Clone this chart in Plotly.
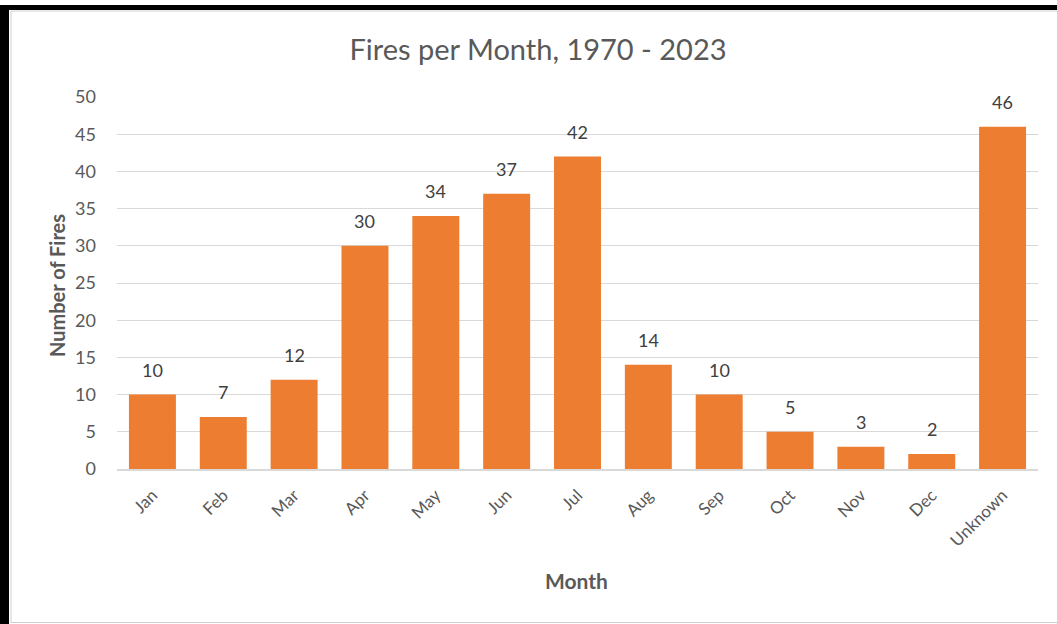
import plotly.graph_objects as go

months = ["Jan", "Feb", "Mar", "Apr", "May", "Jun", "Jul", "Aug", "Sep", "Oct", "Nov", "Dec", "Unknown"]
fires = [10, 7, 12, 30, 34, 37, 42, 14, 10, 5, 3, 2, 46]
y_ticks = [0, 5, 10, 15, 20, 25, 30, 35, 40, 45, 50]

W, H = 1057, 624
ML, MR, MT, MB = 117, 19, 97, 155
PW, PH = W - ML - MR, H - MT - MB

def px(x):
    return (x - ML) / PW

def py(y):
    return (H - MB - y) / PH

FONT = "Lato, Carlito, Calibri, sans-serif"

fig = go.Figure(go.Bar(
    x=months, y=fires,
    marker=dict(color="#ED7D31", line=dict(width=0)),
    width=0.663,
    cliponaxis=False,
    hoverinfo="skip",
))

annotations = [
    dict(x=m, y=v, xref="x", yref="y", text=str(v), showarrow=False,
         yanchor="bottom", yshift=12,
         font=dict(family=FONT, size=18, color="#404040"))
    for m, v in zip(months, fires)
]
annotations += [
    dict(xref="paper", yref="paper", x=px(576), y=py(580), text="<b>Month</b>",
         showarrow=False, xanchor="center", yanchor="middle",
         font=dict(family=FONT, size=21, color="#595959")),
    dict(xref="paper", yref="paper", x=px(57), y=py(286), text="<b>Number of Fires</b>",
         showarrow=False, xanchor="center", yanchor="middle", textangle=-90,
         font=dict(family=FONT, size=20, color="#595959")),
]

shapes = [
    # black frame left and top
    dict(type="rect", xref="paper", yref="paper", x0=px(0), x1=px(9), y0=py(624), y1=py(5),
         fillcolor="black", line=dict(width=0), layer="above"),
    dict(type="rect", xref="paper", yref="paper", x0=px(0), x1=px(1057), y0=py(10), y1=py(5),
         fillcolor="black", line=dict(width=0), layer="above"),
    # thin grey inner border
    dict(type="line", xref="paper", yref="paper", x0=px(11), x1=px(11), y0=py(623), y1=py(11),
         line=dict(color="#D0D0D0", width=1)),
    dict(type="line", xref="paper", yref="paper", x0=px(11), x1=px(1057), y0=py(11), y1=py(11),
         line=dict(color="#D0D0D0", width=1)),
    dict(type="line", xref="paper", yref="paper", x0=px(11), x1=px(1057), y0=py(622.5), y1=py(622.5),
         line=dict(color="#D0D0D0", width=1)),
]

fig.update_layout(
    width=W, height=H,
    margin=dict(l=ML, r=MR, t=MT, b=MB),
    paper_bgcolor="white", plot_bgcolor="white",
    showlegend=False,
    title=dict(text="Fires per Month, 1970 - 2023", xref="container", x=538 / W, xanchor="center",
               y=1 - 50 / H, yanchor="middle",
               font=dict(family=FONT, size=29, color="#595959")),
    font=dict(family=FONT, color="#595959"),
    shapes=shapes,
    annotations=annotations,
    xaxis=dict(
        tickangle=-45, tickfont=dict(family=FONT, size=17, color="#595959"),
        showgrid=False, showline=True, linecolor="#D9D9D9", linewidth=1.5,
        ticks="", ticklabelstandoff=8,
    ),
    yaxis=dict(
        range=[0, 50], tickvals=y_ticks, ticktext=[str(v) for v in y_ticks],
        tickfont=dict(family=FONT, size=18, color="#595959"),
        showgrid=True, gridcolor="#D9D9D9", gridwidth=1,
        zeroline=False, showline=False, ticks="", ticklabelstandoff=20,
    ),
)

fig.write_html("out.html", config={"displayModeBar": False},
               post_script="document.body.style.margin='0px';")
